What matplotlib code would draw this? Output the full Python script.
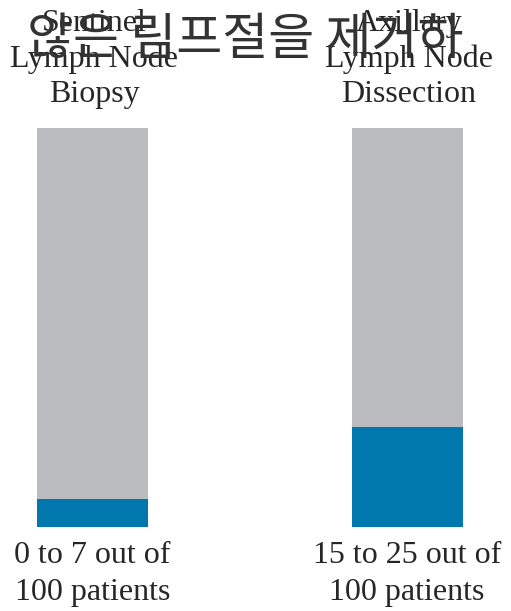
import matplotlib
matplotlib.use("Agg")
import matplotlib.pyplot as plt
from matplotlib.transforms import blended_transform_factory

title = "않은 림프절을 제거하"
categories = ["Sentinel\nLymph Node\nBiopsy", "Axillary\nLymph Node\nDissection"]
affected = [7, 25]
total = [100, 100]
bottom_labels = ["0 to 7 out of\n100 patients", "15 to 25 out of\n100 patients"]

W, H = 511, 611
fig = plt.figure(figsize=(W / 100, H / 100), dpi=100)
ax = fig.add_axes([0, (H - 527) / H, 1, 399 / H])

pos = [0, 1]
bw = 111 / 314.5
gray = "#bbbcc0"
blue = "#0077ad"
ax.bar(pos, total, width=bw, color=gray, linewidth=0)
ax.bar(pos, affected, width=bw, color=blue, linewidth=0)
ax.set_xlim(-92.5 / 314.5, 1 + 104 / 314.5)
ax.set_ylim(0, 100)
ax.axis("off")

tr = blended_transform_factory(ax.transData, fig.transFigure)
serif = ["Liberation Serif", "DejaVu Serif"]
tc = "#262626"
for p, lab, bl in zip(pos, categories, bottom_labels):
    ax.text(p + 0.005, 1 - 59 / H, lab, transform=tr, ha="center", va="center",
            fontsize=23, family=serif, color=tc, linespacing=1.26)
    ax.text(p, 1 - 574 / H, bl, transform=tr, ha="center", va="center",
            fontsize=23, family=serif, color=tc, linespacing=1.38)

fig.text(245 / W, 1 - 40 / H, title, ha="center", va="center", fontsize=36,
         family=["Noto Sans CJK KR", "DejaVu Sans"], color="#333333")

fig.savefig("out.png", dpi=100)
